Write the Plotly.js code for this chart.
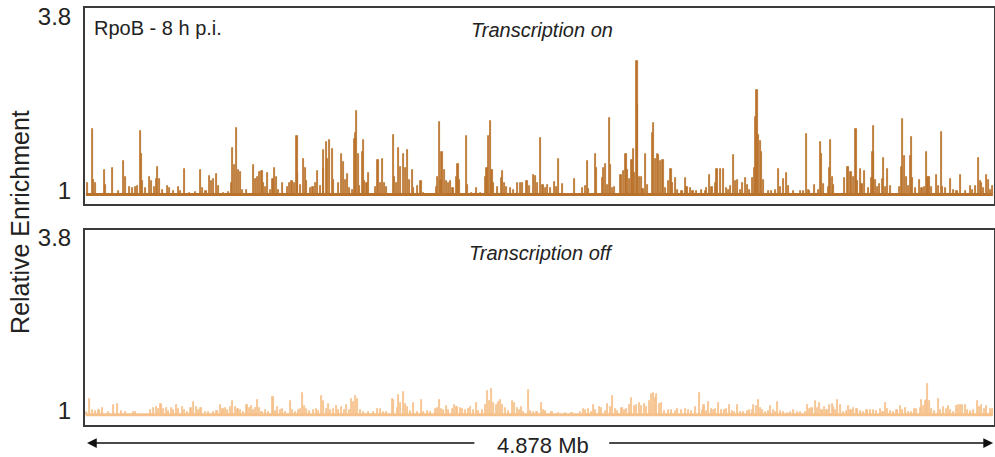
<!DOCTYPE html>
<html>
<head>
<meta charset="utf-8">
<script src="https://cdn.plot.ly/plotly-3.0.1.min.js"></script>
<style>html,body{margin:0;padding:0;background:#fff;}#chart{width:995px;height:457px;}</style>
</head>
<body>
<div id="chart"></div>
<script>
// Genome positions in kb (genome length 4878 kb), relative enrichment values
const genomeLengthKb = 4878;

const onPos = [7,36,43,52,100,105,141,177,204,213,234,249,266,279,293,297,306,320,342,352,368,379,386,397,413,440,451,469,496,508,531,558,589,616,625,646,664,675,687,700,714,741,768,782,789,798,812,821,830,843,862,902,911,923,934,947,956,965,977,991,1006,1015,1024,1036,1058,1085,1095,1108,1120,1135,1140,1153,1170,1179,1188,1206,1221,1235,1244,1262,1276,1280,1294,1301,1312,1324,1333,1360,1373,1384,1396,1409,1419,1432,1444,1452,1455,1464,1473,1486,1491,1500,1512,1518,1557,1571,1584,1595,1605,1616,1652,1659,1670,1682,1691,1706,1718,1731,1742,1756,1763,1781,1802,1817,1885,1892,1903,1910,1915,1928,1938,1951,1963,1974,1992,2001,2010,2049,2053,2076,2100,2121,2148,2157,2166,2175,2184,2193,2214,2234,2239,2250,2264,2282,2300,2321,2336,2350,2372,2386,2407,2416,2429,2447,2458,2472,2484,2499,2520,2531,2544,2561,2628,2669,2689,2696,2705,2740,2746,2776,2785,2794,2803,2816,2821,2830,2842,2878,2893,2905,2914,2925,2937,2943,2950,2964,2968,2979,2986,2996,3009,3018,3045,3054,3061,3072,3081,3090,3104,3116,3134,3147,3154,3170,3183,3206,3224,3233,3251,3265,3283,3313,3331,3340,3354,3367,3385,3394,3412,3430,3444,3456,3465,3483,3492,3505,3519,3533,3548,3558,3569,3587,3596,3603,3609,3618,3627,3635,3644,3671,3689,3709,3727,3736,3754,3768,3777,3804,3843,3861,3875,3884,3893,3918,3942,3951,3956,3965,3992,4001,4004,4013,4022,4081,4094,4103,4115,4126,4142,4151,4165,4174,4189,4210,4223,4233,4237,4246,4258,4269,4282,4291,4300,4312,4327,4377,4386,4393,4403,4412,4425,4434,4439,4446,4461,4484,4497,4509,4520,4529,4538,4550,4574,4586,4600,4608,4622,4649,4667,4685,4706,4729,4756,4770,4783,4801,4810,4819,4828,4846,4855,4867,4875];
const onVal = [1.19,2.05,1.23,1.18,1.40,1.15,1.43,1.06,1.54,1.28,1.12,1.10,1.12,1.13,2.03,1.66,1.22,1.10,1.28,1.21,1.12,1.25,1.45,1.25,1.08,1.14,1.10,1.06,1.12,1.05,1.41,1.03,1.04,1.40,1.10,1.06,1.30,1.21,1.25,1.33,1.14,1.03,1.04,1.18,1.75,1.48,2.07,1.40,1.37,1.07,1.07,1.48,1.25,1.28,1.37,1.38,1.18,1.12,1.35,1.08,1.25,1.43,1.28,1.08,1.18,1.12,1.18,1.21,1.19,1.94,1.34,1.15,1.58,1.42,1.21,1.10,1.12,1.18,1.38,1.13,1.41,1.71,1.84,1.58,1.88,1.73,1.23,1.18,1.65,1.53,1.23,1.33,1.10,1.07,1.89,1.99,2.34,1.66,1.14,1.69,1.88,1.21,1.18,1.34,1.12,1.56,1.18,1.58,1.18,1.12,1.96,1.29,1.18,1.75,1.45,1.66,1.42,1.72,1.23,1.40,1.10,1.14,1.22,1.03,1.12,1.29,2.17,1.23,1.69,1.40,1.21,1.18,1.21,1.10,1.29,1.49,1.23,1.94,1.15,1.03,1.10,1.03,1.29,1.42,1.94,2.19,1.40,1.18,1.12,1.26,1.38,1.18,1.12,1.10,1.07,1.19,1.18,1.19,1.21,1.14,1.31,1.30,1.19,1.91,1.15,1.11,1.15,1.11,1.20,1.12,1.57,1.17,1.25,1.11,1.14,1.54,1.09,1.65,1.42,1.26,1.43,1.49,1.15,2.23,1.48,1.11,1.12,1.31,1.38,1.66,1.39,1.25,1.55,1.73,1.34,3.15,2.46,1.29,1.28,1.09,1.65,1.15,2.00,2.16,1.58,1.65,1.64,1.54,1.56,1.10,1.21,1.41,1.18,1.27,1.08,1.05,1.27,1.12,1.10,1.06,1.05,1.08,1.06,1.11,1.31,1.12,1.18,1.41,1.41,1.41,1.10,1.08,1.14,1.63,1.21,1.23,1.08,1.18,1.26,1.16,1.08,1.26,1.42,2.25,2.69,1.96,1.86,1.69,1.23,1.05,1.06,1.07,1.41,1.12,1.25,1.35,1.13,1.05,1.05,1.05,1.98,1.08,1.05,1.15,1.07,1.85,1.66,1.17,1.12,1.42,1.88,1.29,1.15,1.26,1.44,1.44,1.37,1.28,2.05,1.21,1.41,1.17,1.38,1.10,1.26,1.69,2.10,1.23,1.12,1.17,1.25,1.59,1.12,1.41,1.13,1.12,1.44,2.21,1.62,1.29,1.13,1.62,1.93,1.26,1.10,1.23,1.10,1.12,1.69,1.29,1.28,1.12,1.31,1.13,2.01,1.12,1.10,1.25,1.08,1.05,1.31,1.05,1.13,1.08,1.14,1.59,1.21,1.18,1.10,1.31,1.23,1.07,1.13];

const offPos = [2,19,34,52,70,91,123,150,168,189,213,258,266,347,365,379,392,404,419,433,445,458,472,487,499,517,530,544,565,580,594,607,619,642,660,687,705,723,737,750,762,777,789,803,818,830,848,866,879,889,902,911,923,934,947,965,982,1006,1018,1031,1045,1059,1072,1099,1113,1126,1144,1156,1167,1176,1188,1203,1224,1238,1251,1265,1278,1292,1305,1317,1332,1346,1358,1376,1391,1403,1416,1430,1439,1448,1460,1475,1493,1519,1546,1568,1582,1600,1618,1647,1656,1674,1683,1692,1706,1719,1728,1746,1764,1782,1803,1817,1835,1853,1880,1889,1902,1912,1925,1937,1952,1970,1984,1996,2014,2027,2041,2056,2068,2086,2099,2113,2134,2149,2161,2170,2181,2193,2206,2217,2229,2242,2256,2274,2292,2306,2319,2331,2342,2354,2378,2390,2408,2426,2449,2462,2474,2507,2542,2578,2614,2659,2677,2689,2703,2718,2730,2743,2761,2775,2793,2807,2820,2834,2847,2861,2883,2897,2909,2922,2936,2951,2963,2976,2990,3002,3017,3029,3044,3053,3062,3071,3083,3097,3112,3133,3151,3169,3183,3201,3223,3241,3258,3279,3302,3315,3324,3338,3350,3363,3377,3386,3404,3417,3435,3445,3463,3476,3488,3503,3520,3538,3556,3571,3583,3592,3606,3617,3628,3637,3655,3673,3682,3696,3708,3721,3735,3750,3771,3789,3807,3825,3843,3870,3882,3893,3905,3923,3936,3946,3959,3971,3986,4000,4013,4022,4031,4043,4057,4075,4093,4102,4115,4129,4147,4165,4183,4201,4219,4236,4254,4272,4287,4299,4312,4326,4344,4362,4380,4394,4407,4424,4442,4455,4469,4487,4496,4505,4514,4523,4528,4537,4550,4562,4585,4598,4612,4627,4639,4648,4666,4680,4693,4702,4716,4729,4741,4756,4773,4795,4806,4818,4831,4845,4863,4876];
const offVal = [1.05,1.26,1.08,1.06,1.08,1.11,1.05,1.16,1.17,1.06,1.05,1.05,1.04,1.08,1.11,1.12,1.10,1.17,1.10,1.11,1.06,1.11,1.08,1.15,1.10,1.12,1.08,1.05,1.11,1.20,1.12,1.08,1.11,1.05,1.04,1.04,1.06,1.15,1.10,1.11,1.08,1.12,1.22,1.12,1.10,1.08,1.05,1.15,1.11,1.14,1.08,1.11,1.23,1.11,1.05,1.08,1.05,1.28,1.06,1.12,1.08,1.10,1.05,1.22,1.08,1.05,1.08,1.10,1.35,1.14,1.10,1.06,1.08,1.10,1.06,1.30,1.22,1.10,1.17,1.08,1.10,1.14,1.08,1.12,1.08,1.16,1.08,1.26,1.20,1.30,1.26,1.08,1.05,1.04,1.05,1.10,1.10,1.05,1.05,1.26,1.24,1.11,1.32,1.19,1.37,1.17,1.12,1.06,1.19,1.05,1.23,1.05,1.06,1.04,1.10,1.11,1.24,1.10,1.08,1.14,1.08,1.10,1.15,1.12,1.11,1.10,1.08,1.10,1.12,1.08,1.19,1.06,1.08,1.16,1.38,1.22,1.42,1.19,1.16,1.20,1.24,1.16,1.11,1.06,1.22,1.19,1.11,1.08,1.12,1.05,1.40,1.06,1.04,1.05,1.19,1.08,1.06,1.05,1.03,1.02,1.03,1.05,1.10,1.08,1.10,1.05,1.15,1.08,1.12,1.11,1.06,1.17,1.12,1.30,1.10,1.06,1.11,1.08,1.10,1.15,1.27,1.14,1.16,1.19,1.14,1.17,1.12,1.22,1.33,1.35,1.27,1.33,1.17,1.19,1.06,1.08,1.08,1.06,1.10,1.08,1.10,1.08,1.06,1.12,1.35,1.08,1.16,1.06,1.20,1.10,1.08,1.10,1.19,1.08,1.08,1.10,1.15,1.06,1.04,1.15,1.04,1.05,1.06,1.08,1.08,1.15,1.14,1.23,1.11,1.08,1.04,1.06,1.14,1.08,1.05,1.20,1.06,1.05,1.03,1.04,1.08,1.05,1.04,1.05,1.16,1.10,1.11,1.22,1.11,1.19,1.08,1.12,1.08,1.16,1.17,1.12,1.08,1.24,1.15,1.05,1.06,1.14,1.08,1.11,1.10,1.06,1.05,1.08,1.08,1.08,1.06,1.10,1.05,1.19,1.10,1.06,1.05,1.08,1.14,1.08,1.11,1.05,1.05,1.10,1.10,1.11,1.24,1.14,1.22,1.24,1.50,1.22,1.10,1.06,1.26,1.08,1.12,1.10,1.14,1.08,1.05,1.14,1.15,1.15,1.15,1.16,1.08,1.06,1.08,1.22,1.12,1.16,1.10,1.14,1.10,1.10];

const yTickVals = [1, 3.8];
const yTickText = ['1', '3.8'];
const baselineX = [0, genomeLengthKb];
const baselineY = [1, 1];

const colOn = 'rgb(185,114,44)';
const colOff = 'rgb(245,192,138)';
const FONT = 'Liberation Sans, Arial, Helvetica, sans-serif';

const traces = [
  {type:'scatter', mode:'lines', x: baselineX, y: baselineY, xaxis:'x', yaxis:'y',
   line:{color: colOn, width: 3}, hoverinfo:'skip', showlegend:false},
  {type:'bar', x: onPos, y: onVal.map(v => v - 1), base: 1, width: 6,
   xaxis:'x', yaxis:'y', marker:{color: colOn, line:{width:0.8, color: colOn}}, showlegend:false},
  {type:'scatter', mode:'lines', x: baselineX, y: baselineY, xaxis:'x2', yaxis:'y2',
   line:{color: colOff, width: 3}, hoverinfo:'skip', showlegend:false},
  {type:'bar', x: offPos, y: offVal.map(v => v - 1), base: 1, width: 6,
   xaxis:'x2', yaxis:'y2', marker:{color: colOff, line:{width:0.8, color: colOff}}, showlegend:false}
];

const xCommon = {range:[-5, 4884], showline:true, mirror:true, linecolor:'#3a3a3a', linewidth:2,
  showticklabels:false, ticks:'', showgrid:false, zeroline:false};
const yCommon = {tickvals: yTickVals, ticktext: yTickText, showline:true, mirror:true,
  linecolor:'#3a3a3a', linewidth:2, ticks:'', showgrid:false, zeroline:false,
  tickfont:{family: FONT, size: 24, color:'#222'}, ticklabelstandoff: 7, ticklabelshift: -4};

const layout = {
  width: 995, height: 457,
  margin: {l:85, r:1, t:8, b:32, pad:0},
  paper_bgcolor:'#ffffff', plot_bgcolor:'#ffffff',
  font:{family: FONT, color:'#222'},
  bargap: 0,
  xaxis: Object.assign({}, xCommon, {domain:[0,1], anchor:'y'}),
  yaxis: Object.assign({}, yCommon, {domain:[0.530, 1], range:[0.847, 4.008], anchor:'x'}),
  xaxis2: Object.assign({}, xCommon, {domain:[0,1], anchor:'y2'}),
  yaxis2: Object.assign({}, yCommon, {domain:[0, 0.4676], range:[0.834, 3.98], anchor:'x2'}),
  annotations: [
    {text:'RpoB - 8 h p.i.', xref:'paper', yref:'paper', x:0.0077, y:0.952, xanchor:'left', yanchor:'middle',
     showarrow:false, font:{family: FONT, size:20, color:'#222'}},
    {text:'<i>Transcription on</i>', xref:'paper', yref:'paper', x:0.503, y:0.947, xanchor:'center', yanchor:'middle',
     showarrow:false, font:{family: FONT, size:20, color:'#222'}},
    {text:'<i>Transcription off</i>', xref:'paper', yref:'paper', x:0.502, y:0.412, xanchor:'center', yanchor:'middle',
     showarrow:false, font:{family: FONT, size:20, color:'#222'}},
    {text:'Relative Enrichment', xref:'paper', yref:'paper', x:-0.0715, y:0.487, xanchor:'center', yanchor:'middle',
     textangle:-90, showarrow:false, font:{family: FONT, size:25, color:'#222'}},
    {text:'4.878 Mb', xref:'paper', yref:'paper', x:0.504, y:-0.048, xanchor:'center', yanchor:'middle',
     showarrow:false, font:{family: FONT, size:22, color:'#222'}},
    {text:'', xref:'paper', yref:'paper', x:0.0022, y:-0.0432, axref:'paper', ayref:'paper', ax:0.430, ay:-0.0432,
     showarrow:true, arrowhead:2, arrowsize:1.3, arrowwidth:1.5, arrowcolor:'#111', standoff:0, startstandoff:0},
    {text:'', xref:'paper', yref:'paper', x:0.999, y:-0.0432, axref:'paper', ayref:'paper', ax:0.575, ay:-0.0432,
     showarrow:true, arrowhead:2, arrowsize:1.3, arrowwidth:1.5, arrowcolor:'#111', standoff:0, startstandoff:0}
  ]
};

Plotly.newPlot('chart', traces, layout, {displayModeBar:false});
</script>
</body>
</html>
